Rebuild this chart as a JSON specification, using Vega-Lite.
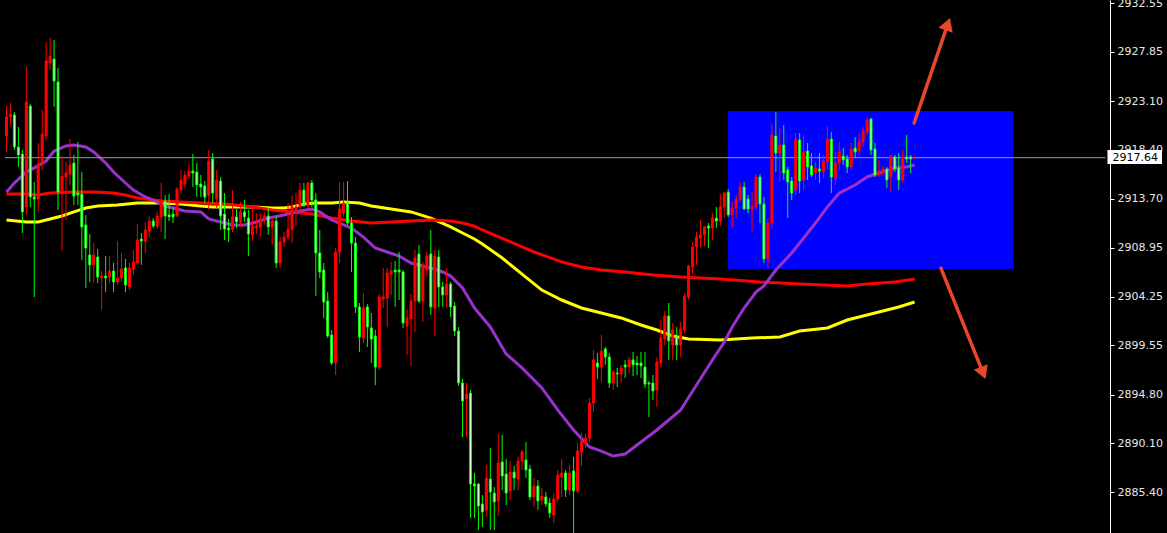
{
  "$schema": "https://vega.github.io/schema/vega-lite/v6.json",
  "width": 1167,
  "height": 533,
  "autosize": {"type": "none"},
  "padding": 0,
  "background": "#000000",
  "config": {"view": {"stroke": null}},
  "datasets": {
    "candles": [
      {"t":0,"open":2919.73,"high":2922.62,"low":2918.19,"close":2921.57},
      {"t":1,"open":2921.57,"high":2922.91,"low":2920.79,"close":2921.85},
      {"t":2,"open":2921.76,"high":2922.05,"low":2918.38,"close":2918.67},
      {"t":3,"open":2918.67,"high":2920.60,"low":2916.75,"close":2917.90},
      {"t":4,"open":2917.99,"high":2918.38,"low":2910.38,"close":2912.41},
      {"t":5,"open":2912.89,"high":2926.39,"low":2912.12,"close":2923.01},
      {"t":6,"open":2922.62,"high":2922.81,"low":2912.89,"close":2913.85},
      {"t":7,"open":2913.85,"high":2915.30,"low":2904.21,"close":2913.65},
      {"t":8,"open":2913.65,"high":2919.05,"low":2912.41,"close":2917.03},
      {"t":9,"open":2917.13,"high":2922.24,"low":2916.45,"close":2919.92},
      {"t":10,"open":2919.73,"high":2928.79,"low":2919.34,"close":2926.96},
      {"t":11,"open":2926.77,"high":2929.18,"low":2926.09,"close":2927.44},
      {"t":12,"open":2927.15,"high":2928.98,"low":2922.53,"close":2925.03},
      {"t":13,"open":2924.94,"high":2926.29,"low":2912.60,"close":2914.33},
      {"t":14,"open":2914.13,"high":2917.80,"low":2908.64,"close":2915.87},
      {"t":15,"open":2915.78,"high":2917.23,"low":2911.63,"close":2916.16},
      {"t":16,"open":2916.06,"high":2919.44,"low":2915.01,"close":2916.94},
      {"t":17,"open":2917.13,"high":2917.90,"low":2913.08,"close":2913.94},
      {"t":18,"open":2914.23,"high":2919.15,"low":2913.08,"close":2914.04},
      {"t":19,"open":2914.13,"high":2916.26,"low":2907.78,"close":2910.96},
      {"t":20,"open":2911.15,"high":2912.12,"low":2905.08,"close":2908.93},
      {"t":21,"open":2908.26,"high":2910.28,"low":2905.66,"close":2907.30},
      {"t":22,"open":2907.30,"high":2909.41,"low":2905.56,"close":2908.26},
      {"t":23,"open":2908.07,"high":2908.84,"low":2905.56,"close":2906.14},
      {"t":24,"open":2906.04,"high":2906.71,"low":2902.96,"close":2906.23},
      {"t":25,"open":2906.23,"high":2908.16,"low":2904.69,"close":2906.04},
      {"t":26,"open":2906.14,"high":2908.16,"low":2905.56,"close":2906.71},
      {"t":27,"open":2906.71,"high":2907.49,"low":2904.69,"close":2905.66},
      {"t":28,"open":2905.66,"high":2909.60,"low":2905.37,"close":2906.04},
      {"t":29,"open":2906.04,"high":2908.45,"low":2905.66,"close":2906.91},
      {"t":30,"open":2907.01,"high":2907.88,"low":2904.69,"close":2905.37},
      {"t":31,"open":2905.18,"high":2907.49,"low":2904.88,"close":2907.01},
      {"t":32,"open":2906.91,"high":2908.74,"low":2906.33,"close":2907.59},
      {"t":33,"open":2907.49,"high":2911.24,"low":2907.30,"close":2909.70},
      {"t":34,"open":2909.80,"high":2910.38,"low":2907.30,"close":2909.60},
      {"t":35,"open":2909.60,"high":2911.44,"low":2908.45,"close":2910.67},
      {"t":36,"open":2910.57,"high":2911.96,"low":2909.99,"close":2911.53},
      {"t":37,"open":2911.53,"high":2911.82,"low":2910.86,"close":2911.05},
      {"t":38,"open":2911.05,"high":2912.41,"low":2910.76,"close":2912.02},
      {"t":39,"open":2911.93,"high":2915.20,"low":2910.48,"close":2913.56},
      {"t":40,"open":2913.46,"high":2914.04,"low":2909.80,"close":2912.02},
      {"t":41,"open":2912.12,"high":2914.13,"low":2911.53,"close":2911.93},
      {"t":42,"open":2912.21,"high":2912.89,"low":2911.34,"close":2911.93},
      {"t":43,"open":2912.02,"high":2914.81,"low":2911.93,"close":2914.62},
      {"t":44,"open":2914.52,"high":2916.45,"low":2914.13,"close":2915.49},
      {"t":45,"open":2915.10,"high":2916.35,"low":2914.72,"close":2915.97},
      {"t":46,"open":2915.87,"high":2917.03,"low":2915.58,"close":2916.35},
      {"t":47,"open":2916.35,"high":2917.99,"low":2914.81,"close":2916.16},
      {"t":48,"open":2916.26,"high":2917.13,"low":2913.85,"close":2915.01},
      {"t":49,"open":2915.10,"high":2915.97,"low":2913.85,"close":2914.81},
      {"t":50,"open":2914.91,"high":2915.39,"low":2913.27,"close":2913.85},
      {"t":51,"open":2914.04,"high":2918.38,"low":2912.60,"close":2917.32},
      {"t":52,"open":2917.51,"high":2918.09,"low":2913.27,"close":2914.23},
      {"t":53,"open":2913.65,"high":2916.45,"low":2912.79,"close":2915.49},
      {"t":54,"open":2915.39,"high":2915.78,"low":2910.67,"close":2912.02},
      {"t":55,"open":2912.21,"high":2914.23,"low":2909.70,"close":2910.76},
      {"t":56,"open":2910.86,"high":2911.73,"low":2909.51,"close":2910.67},
      {"t":57,"open":2910.76,"high":2914.52,"low":2910.48,"close":2911.93},
      {"t":58,"open":2911.93,"high":2912.69,"low":2910.86,"close":2911.44},
      {"t":59,"open":2911.44,"high":2913.37,"low":2910.96,"close":2912.41},
      {"t":60,"open":2912.41,"high":2913.56,"low":2911.44,"close":2911.93},
      {"t":61,"open":2911.82,"high":2912.60,"low":2908.16,"close":2910.28},
      {"t":62,"open":2910.19,"high":2912.79,"low":2909.60,"close":2911.05},
      {"t":63,"open":2910.86,"high":2912.31,"low":2910.28,"close":2911.05},
      {"t":64,"open":2910.96,"high":2912.31,"low":2909.99,"close":2911.73},
      {"t":65,"open":2911.63,"high":2912.41,"low":2911.15,"close":2912.02},
      {"t":66,"open":2912.02,"high":2912.79,"low":2910.19,"close":2910.96},
      {"t":67,"open":2910.96,"high":2911.82,"low":2909.22,"close":2911.53},
      {"t":68,"open":2911.53,"high":2911.96,"low":2907.01,"close":2907.49},
      {"t":69,"open":2907.49,"high":2909.99,"low":2907.01,"close":2909.51},
      {"t":70,"open":2909.51,"high":2910.48,"low":2909.03,"close":2909.99},
      {"t":71,"open":2909.99,"high":2913.27,"low":2909.70,"close":2910.76},
      {"t":72,"open":2910.76,"high":2914.04,"low":2909.41,"close":2912.98},
      {"t":73,"open":2912.41,"high":2914.23,"low":2911.05,"close":2912.89},
      {"t":74,"open":2912.89,"high":2915.20,"low":2912.41,"close":2914.52},
      {"t":75,"open":2914.52,"high":2915.20,"low":2912.89,"close":2913.08},
      {"t":76,"open":2913.08,"high":2915.30,"low":2912.79,"close":2915.20},
      {"t":77,"open":2915.20,"high":2915.49,"low":2912.89,"close":2913.56},
      {"t":78,"open":2913.56,"high":2914.23,"low":2904.30,"close":2908.45},
      {"t":79,"open":2908.45,"high":2910.67,"low":2906.04,"close":2906.62},
      {"t":80,"open":2906.81,"high":2907.49,"low":2902.19,"close":2903.73},
      {"t":81,"open":2903.82,"high":2904.69,"low":2900.26,"close":2900.45},
      {"t":82,"open":2900.55,"high":2901.03,"low":2897.66,"close":2897.85},
      {"t":83,"open":2897.85,"high":2908.93,"low":2896.69,"close":2908.55},
      {"t":84,"open":2908.55,"high":2915.30,"low":2907.49,"close":2912.69},
      {"t":85,"open":2912.31,"high":2915.30,"low":2911.93,"close":2913.27},
      {"t":86,"open":2913.27,"high":2915.39,"low":2911.15,"close":2911.34},
      {"t":87,"open":2911.34,"high":2911.93,"low":2906.62,"close":2909.41},
      {"t":88,"open":2909.41,"high":2909.99,"low":2902.67,"close":2903.25},
      {"t":89,"open":2903.25,"high":2903.63,"low":2898.91,"close":2900.35},
      {"t":90,"open":2900.26,"high":2904.59,"low":2899.77,"close":2903.15},
      {"t":91,"open":2903.25,"high":2903.53,"low":2899.39,"close":2901.32},
      {"t":92,"open":2901.22,"high":2902.67,"low":2897.85,"close":2900.16},
      {"t":93,"open":2900.45,"high":2901.03,"low":2895.72,"close":2897.46},
      {"t":94,"open":2897.46,"high":2904.50,"low":2897.17,"close":2904.21},
      {"t":95,"open":2904.01,"high":2907.01,"low":2903.15,"close":2904.21},
      {"t":96,"open":2904.11,"high":2907.01,"low":2901.32,"close":2906.52},
      {"t":97,"open":2906.42,"high":2907.59,"low":2904.40,"close":2906.71},
      {"t":98,"open":2906.81,"high":2907.68,"low":2903.25,"close":2906.62},
      {"t":99,"open":2906.81,"high":2908.55,"low":2903.92,"close":2906.62},
      {"t":100,"open":2906.62,"high":2906.81,"low":2901.22,"close":2901.70},
      {"t":101,"open":2901.42,"high":2903.05,"low":2898.62,"close":2902.19},
      {"t":102,"open":2902.09,"high":2904.50,"low":2897.56,"close":2903.82},
      {"t":103,"open":2903.82,"high":2908.74,"low":2900.84,"close":2907.97},
      {"t":104,"open":2908.36,"high":2909.22,"low":2903.63,"close":2903.82},
      {"t":105,"open":2903.82,"high":2907.59,"low":2901.80,"close":2907.30},
      {"t":106,"open":2906.81,"high":2908.55,"low":2906.23,"close":2908.16},
      {"t":107,"open":2908.36,"high":2910.67,"low":2902.48,"close":2903.25},
      {"t":108,"open":2903.15,"high":2908.74,"low":2900.45,"close":2908.16},
      {"t":109,"open":2908.07,"high":2908.74,"low":2903.25,"close":2905.18},
      {"t":110,"open":2905.18,"high":2905.66,"low":2903.25,"close":2904.40},
      {"t":111,"open":2904.40,"high":2907.01,"low":2903.15,"close":2905.46},
      {"t":112,"open":2905.46,"high":2905.66,"low":2902.28,"close":2903.25},
      {"t":113,"open":2903.34,"high":2903.73,"low":2900.45,"close":2900.93},
      {"t":114,"open":2900.93,"high":2901.32,"low":2895.63,"close":2895.92},
      {"t":115,"open":2895.92,"high":2896.31,"low":2890.71,"close":2894.18},
      {"t":116,"open":2894.38,"high":2895.92,"low":2890.71,"close":2894.86},
      {"t":117,"open":2894.95,"high":2895.24,"low":2882.90,"close":2886.18},
      {"t":118,"open":2886.18,"high":2887.24,"low":2882.90,"close":2885.99},
      {"t":119,"open":2886.18,"high":2886.28,"low":2881.75,"close":2884.06},
      {"t":120,"open":2884.26,"high":2885.12,"low":2882.04,"close":2883.49},
      {"t":121,"open":2883.68,"high":2888.02,"low":2883.00,"close":2886.76},
      {"t":122,"open":2886.66,"high":2889.65,"low":2881.75,"close":2885.41},
      {"t":123,"open":2885.31,"high":2885.89,"low":2881.75,"close":2884.45},
      {"t":124,"open":2884.55,"high":2891.00,"low":2883.10,"close":2888.21},
      {"t":125,"open":2888.31,"high":2890.90,"low":2885.60,"close":2886.95},
      {"t":126,"open":2887.15,"high":2888.59,"low":2884.16,"close":2885.31},
      {"t":127,"open":2885.51,"high":2888.40,"low":2884.64,"close":2887.34},
      {"t":128,"open":2887.34,"high":2887.92,"low":2885.60,"close":2886.76},
      {"t":129,"open":2886.66,"high":2888.79,"low":2885.60,"close":2888.40},
      {"t":130,"open":2888.40,"high":2889.46,"low":2887.53,"close":2889.27},
      {"t":131,"open":2888.50,"high":2890.23,"low":2886.76,"close":2887.53},
      {"t":132,"open":2887.63,"high":2888.02,"low":2884.64,"close":2884.93},
      {"t":133,"open":2884.93,"high":2886.76,"low":2883.97,"close":2885.99},
      {"t":134,"open":2885.99,"high":2886.57,"low":2883.68,"close":2884.55},
      {"t":135,"open":2884.64,"high":2885.80,"low":2884.16,"close":2885.02},
      {"t":136,"open":2884.93,"high":2885.41,"low":2883.97,"close":2884.26},
      {"t":137,"open":2884.35,"high":2884.84,"low":2882.90,"close":2883.39},
      {"t":138,"open":2883.20,"high":2885.31,"low":2882.42,"close":2884.74},
      {"t":139,"open":2884.74,"high":2887.53,"low":2884.45,"close":2887.05},
      {"t":140,"open":2886.86,"high":2888.59,"low":2884.93,"close":2887.24},
      {"t":141,"open":2887.24,"high":2887.53,"low":2884.93,"close":2885.60},
      {"t":142,"open":2885.60,"high":2888.02,"low":2885.12,"close":2887.24},
      {"t":143,"open":2887.44,"high":2888.79,"low":2881.46,"close":2885.51},
      {"t":144,"open":2885.51,"high":2890.13,"low":2885.31,"close":2889.37},
      {"t":145,"open":2889.27,"high":2891.10,"low":2887.92,"close":2890.32},
      {"t":146,"open":2890.13,"high":2891.00,"low":2889.65,"close":2890.61},
      {"t":147,"open":2890.61,"high":2894.47,"low":2890.13,"close":2893.99},
      {"t":148,"open":2893.99,"high":2899.10,"low":2893.12,"close":2898.14},
      {"t":149,"open":2897.85,"high":2898.81,"low":2896.31,"close":2897.46},
      {"t":150,"open":2897.46,"high":2900.55,"low":2896.02,"close":2899.00},
      {"t":151,"open":2899.20,"high":2899.39,"low":2897.66,"close":2898.43},
      {"t":152,"open":2898.43,"high":2898.81,"low":2895.44,"close":2895.92},
      {"t":153,"open":2895.92,"high":2897.17,"low":2895.24,"close":2896.98},
      {"t":154,"open":2896.88,"high":2897.37,"low":2895.53,"close":2896.79},
      {"t":155,"open":2896.79,"high":2897.66,"low":2895.92,"close":2897.37},
      {"t":156,"open":2897.66,"high":2898.14,"low":2896.40,"close":2897.46},
      {"t":157,"open":2897.46,"high":2898.43,"low":2896.88,"close":2898.14},
      {"t":158,"open":2898.14,"high":2898.91,"low":2896.59,"close":2897.66},
      {"t":159,"open":2897.85,"high":2898.52,"low":2896.69,"close":2897.66},
      {"t":160,"open":2897.85,"high":2898.91,"low":2896.40,"close":2897.56},
      {"t":161,"open":2897.46,"high":2898.91,"low":2895.44,"close":2895.82},
      {"t":162,"open":2895.92,"high":2896.11,"low":2892.64,"close":2895.82},
      {"t":163,"open":2895.92,"high":2896.69,"low":2894.28,"close":2895.15},
      {"t":164,"open":2895.24,"high":2898.43,"low":2893.61,"close":2897.94},
      {"t":165,"open":2897.85,"high":2901.99,"low":2897.46,"close":2900.26},
      {"t":166,"open":2900.16,"high":2902.86,"low":2899.58,"close":2902.38},
      {"t":167,"open":2902.38,"high":2903.63,"low":2898.14,"close":2899.97},
      {"t":168,"open":2899.58,"high":2901.70,"low":2898.14,"close":2901.03},
      {"t":169,"open":2900.35,"high":2901.32,"low":2898.14,"close":2899.58},
      {"t":170,"open":2899.58,"high":2901.80,"low":2898.43,"close":2901.13},
      {"t":171,"open":2901.03,"high":2904.59,"low":2900.74,"close":2904.30},
      {"t":172,"open":2904.21,"high":2907.30,"low":2903.92,"close":2907.20},
      {"t":173,"open":2907.10,"high":2909.51,"low":2906.42,"close":2909.03},
      {"t":174,"open":2909.03,"high":2910.48,"low":2907.30,"close":2909.99},
      {"t":175,"open":2909.89,"high":2911.63,"low":2909.03,"close":2910.19},
      {"t":176,"open":2910.19,"high":2911.05,"low":2909.12,"close":2910.96},
      {"t":177,"open":2911.05,"high":2911.34,"low":2908.93,"close":2910.86},
      {"t":178,"open":2910.86,"high":2912.31,"low":2909.70,"close":2911.82},
      {"t":179,"open":2911.82,"high":2912.89,"low":2910.86,"close":2911.53},
      {"t":180,"open":2911.53,"high":2914.13,"low":2911.05,"close":2912.89},
      {"t":181,"open":2912.89,"high":2914.33,"low":2911.82,"close":2914.23},
      {"t":182,"open":2914.33,"high":2914.62,"low":2911.93,"close":2912.12},
      {"t":183,"open":2912.12,"high":2913.37,"low":2910.86,"close":2912.79},
      {"t":184,"open":2912.79,"high":2914.04,"low":2911.82,"close":2913.65},
      {"t":185,"open":2913.65,"high":2915.30,"low":2913.37,"close":2914.81},
      {"t":186,"open":2914.81,"high":2915.30,"low":2912.60,"close":2912.69},
      {"t":187,"open":2913.65,"high":2914.04,"low":2912.31,"close":2912.69},
      {"t":188,"open":2912.69,"high":2914.33,"low":2910.57,"close":2912.89},
      {"t":189,"open":2912.89,"high":2916.06,"low":2912.60,"close":2915.78},
      {"t":190,"open":2915.78,"high":2916.06,"low":2911.34,"close":2913.18},
      {"t":191,"open":2913.18,"high":2913.85,"low":2907.49,"close":2907.88},
      {"t":192,"open":2907.88,"high":2911.82,"low":2907.01,"close":2911.34},
      {"t":193,"open":2911.34,"high":2920.88,"low":2910.76,"close":2919.83},
      {"t":194,"open":2919.73,"high":2922.05,"low":2916.26,"close":2918.09},
      {"t":195,"open":2918.09,"high":2920.50,"low":2915.30,"close":2918.86},
      {"t":196,"open":2918.86,"high":2920.79,"low":2915.49,"close":2916.16},
      {"t":197,"open":2916.45,"high":2916.75,"low":2911.82,"close":2915.30},
      {"t":198,"open":2915.39,"high":2915.78,"low":2913.56,"close":2914.23},
      {"t":199,"open":2914.52,"high":2920.02,"low":2914.04,"close":2919.44},
      {"t":200,"open":2919.34,"high":2920.02,"low":2914.23,"close":2915.39},
      {"t":201,"open":2915.49,"high":2919.83,"low":2914.52,"close":2918.19},
      {"t":202,"open":2918.28,"high":2919.05,"low":2915.49,"close":2916.75},
      {"t":203,"open":2916.84,"high":2918.09,"low":2915.78,"close":2915.97},
      {"t":204,"open":2916.16,"high":2917.23,"low":2915.49,"close":2916.65},
      {"t":205,"open":2916.55,"high":2918.09,"low":2915.20,"close":2916.35},
      {"t":206,"open":2916.26,"high":2917.90,"low":2915.68,"close":2917.32},
      {"t":207,"open":2917.23,"high":2920.69,"low":2916.45,"close":2919.44},
      {"t":208,"open":2919.44,"high":2920.11,"low":2914.23,"close":2915.78},
      {"t":209,"open":2915.68,"high":2918.19,"low":2915.01,"close":2917.13},
      {"t":210,"open":2917.13,"high":2919.15,"low":2916.45,"close":2918.19},
      {"t":211,"open":2917.80,"high":2918.57,"low":2916.94,"close":2917.42},
      {"t":212,"open":2917.51,"high":2917.90,"low":2916.16,"close":2916.75},
      {"t":213,"open":2916.75,"high":2919.05,"low":2916.45,"close":2918.48},
      {"t":214,"open":2918.57,"high":2919.63,"low":2917.61,"close":2918.19},
      {"t":215,"open":2918.28,"high":2920.02,"low":2917.80,"close":2919.15},
      {"t":216,"open":2919.15,"high":2920.60,"low":2918.67,"close":2920.21},
      {"t":217,"open":2920.11,"high":2921.47,"low":2919.83,"close":2921.27},
      {"t":218,"open":2921.37,"high":2921.47,"low":2917.90,"close":2918.38},
      {"t":219,"open":2918.48,"high":2919.05,"low":2915.78,"close":2915.97},
      {"t":220,"open":2915.97,"high":2917.42,"low":2915.78,"close":2916.35},
      {"t":221,"open":2916.16,"high":2916.84,"low":2915.87,"close":2916.55},
      {"t":222,"open":2916.55,"high":2916.75,"low":2914.72,"close":2915.49},
      {"t":223,"open":2915.78,"high":2917.90,"low":2914.33,"close":2917.80},
      {"t":224,"open":2917.71,"high":2917.90,"low":2916.26,"close":2916.55},
      {"t":225,"open":2916.65,"high":2918.09,"low":2914.52,"close":2915.49},
      {"t":226,"open":2915.49,"high":2918.38,"low":2915.20,"close":2917.71},
      {"t":227,"open":2917.71,"high":2919.83,"low":2917.13,"close":2917.51},
      {"t":228,"open":2917.71,"high":2917.90,"low":2916.16,"close":2917.51},
      {"t":229,"open":2917.55,"high":2917.80,"low":2917.51,"close":2917.64}
    ],
    "ma": [
      {"t":0,"line":"fast","value":2914.33},{"t":2,"line":"fast","value":2915.20},{"t":5,"line":"fast","value":2916.26},{"t":7,"line":"fast","value":2916.65},{"t":10,"line":"fast","value":2917.32},{"t":12,"line":"fast","value":2918.28},{"t":15,"line":"fast","value":2918.77},{"t":17,"line":"fast","value":2918.86},{"t":20,"line":"fast","value":2918.67},{"t":22,"line":"fast","value":2918.19},{"t":25,"line":"fast","value":2917.13},{"t":27,"line":"fast","value":2916.26},{"t":30,"line":"fast","value":2915.20},{"t":32,"line":"fast","value":2914.52},{"t":35,"line":"fast","value":2913.85},{"t":37,"line":"fast","value":2913.56},{"t":40,"line":"fast","value":2912.98},{"t":45,"line":"fast","value":2912.50},{"t":49,"line":"fast","value":2912.41},{"t":51,"line":"fast","value":2911.73},{"t":54,"line":"fast","value":2911.44},{"t":57,"line":"fast","value":2911.15},{"t":60,"line":"fast","value":2911.15},{"t":63,"line":"fast","value":2911.44},{"t":66,"line":"fast","value":2911.82},{"t":70,"line":"fast","value":2912.12},{"t":74,"line":"fast","value":2912.50},{"t":77,"line":"fast","value":2912.69},{"t":79,"line":"fast","value":2912.41},{"t":82,"line":"fast","value":2911.63},{"t":87,"line":"fast","value":2910.86},{"t":90,"line":"fast","value":2909.99},{"t":93,"line":"fast","value":2908.93},{"t":96,"line":"fast","value":2908.55},{"t":99,"line":"fast","value":2908.16},{"t":102,"line":"fast","value":2907.49},{"t":107,"line":"fast","value":2907.01},{"t":110,"line":"fast","value":2906.62},{"t":112,"line":"fast","value":2906.23},{"t":115,"line":"fast","value":2905.08},{"t":118,"line":"fast","value":2903.15},{"t":122,"line":"fast","value":2901.32},{"t":126,"line":"fast","value":2898.72},{"t":130,"line":"fast","value":2897.37},{"t":135,"line":"fast","value":2895.44},{"t":139,"line":"fast","value":2893.32},{"t":143,"line":"fast","value":2891.39},{"t":147,"line":"fast","value":2889.75},{"t":150,"line":"fast","value":2889.36},{"t":153,"line":"fast","value":2888.88},{"t":156,"line":"fast","value":2889.07},{"t":160,"line":"fast","value":2890.23},{"t":164,"line":"fast","value":2891.39},{"t":170,"line":"fast","value":2893.32},{"t":174,"line":"fast","value":2895.73},{"t":178,"line":"fast","value":2898.14},{"t":181,"line":"fast","value":2899.87},{"t":183,"line":"fast","value":2901.32},{"t":186,"line":"fast","value":2903.15},{"t":189,"line":"fast","value":2904.69},{"t":191,"line":"fast","value":2905.27},{"t":194,"line":"fast","value":2906.81},{"t":198,"line":"fast","value":2908.45},{"t":201,"line":"fast","value":2909.90},{"t":204,"line":"fast","value":2911.34},{"t":207,"line":"fast","value":2912.89},{"t":210,"line":"fast","value":2914.23},{"t":214,"line":"fast","value":2915.01},{"t":217,"line":"fast","value":2915.78},{"t":220,"line":"fast","value":2916.16},{"t":224,"line":"fast","value":2916.65},{"t":227,"line":"fast","value":2916.75},{"t":229,"line":"fast","value":2916.94},
      {"t":0,"line":"medium","value":2911.63},{"t":5,"line":"medium","value":2911.44},{"t":8,"line":"medium","value":2911.44},{"t":11,"line":"medium","value":2911.73},{"t":14,"line":"medium","value":2912.02},{"t":17,"line":"medium","value":2912.41},{"t":20,"line":"medium","value":2912.79},{"t":23,"line":"medium","value":2912.98},{"t":28,"line":"medium","value":2913.08},{"t":33,"line":"medium","value":2913.27},{"t":39,"line":"medium","value":2913.27},{"t":44,"line":"medium","value":2913.18},{"t":49,"line":"medium","value":2912.98},{"t":52,"line":"medium","value":2912.89},{"t":57,"line":"medium","value":2912.89},{"t":62,"line":"medium","value":2912.89},{"t":67,"line":"medium","value":2912.79},{"t":70,"line":"medium","value":2912.79},{"t":72,"line":"medium","value":2912.89},{"t":75,"line":"medium","value":2913.18},{"t":78,"line":"medium","value":2913.27},{"t":82,"line":"medium","value":2913.27},{"t":85,"line":"medium","value":2913.37},{"t":89,"line":"medium","value":2913.27},{"t":92,"line":"medium","value":2912.98},{"t":97,"line":"medium","value":2912.69},{"t":102,"line":"medium","value":2912.41},{"t":107,"line":"medium","value":2911.82},{"t":112,"line":"medium","value":2910.96},{"t":115,"line":"medium","value":2910.38},{"t":118,"line":"medium","value":2909.80},{"t":120,"line":"medium","value":2909.32},{"t":125,"line":"medium","value":2907.97},{"t":130,"line":"medium","value":2906.42},{"t":135,"line":"medium","value":2904.88},{"t":140,"line":"medium","value":2903.92},{"t":145,"line":"medium","value":2903.15},{"t":150,"line":"medium","value":2902.67},{"t":155,"line":"medium","value":2902.19},{"t":160,"line":"medium","value":2901.51},{"t":164,"line":"medium","value":2901.03},{"t":168,"line":"medium","value":2900.45},{"t":172,"line":"medium","value":2900.16},{"t":180,"line":"medium","value":2900.06},{"t":188,"line":"medium","value":2900.26},{"t":195,"line":"medium","value":2900.35},{"t":200,"line":"medium","value":2900.93},{"t":207,"line":"medium","value":2901.22},{"t":212,"line":"medium","value":2901.99},{"t":219,"line":"medium","value":2902.67},{"t":225,"line":"medium","value":2903.25},{"t":229,"line":"medium","value":2903.73},
      {"t":0,"line":"slow","value":2914.13},{"t":5,"line":"slow","value":2914.13},{"t":8,"line":"slow","value":2914.04},{"t":11,"line":"slow","value":2914.23},{"t":17,"line":"slow","value":2914.33},{"t":22,"line":"slow","value":2914.33},{"t":27,"line":"slow","value":2914.23},{"t":30,"line":"slow","value":2914.04},{"t":33,"line":"slow","value":2913.75},{"t":37,"line":"slow","value":2913.56},{"t":39,"line":"slow","value":2913.46},{"t":44,"line":"slow","value":2913.37},{"t":49,"line":"slow","value":2913.27},{"t":55,"line":"slow","value":2913.18},{"t":60,"line":"slow","value":2912.98},{"t":64,"line":"slow","value":2912.79},{"t":67,"line":"slow","value":2912.60},{"t":72,"line":"slow","value":2912.41},{"t":77,"line":"slow","value":2912.21},{"t":82,"line":"slow","value":2911.82},{"t":87,"line":"slow","value":2911.53},{"t":92,"line":"slow","value":2911.34},{"t":97,"line":"slow","value":2911.44},{"t":102,"line":"slow","value":2911.53},{"t":107,"line":"slow","value":2911.63},{"t":112,"line":"slow","value":2911.53},{"t":115,"line":"slow","value":2911.34},{"t":118,"line":"slow","value":2911.05},{"t":120,"line":"slow","value":2910.67},{"t":126,"line":"slow","value":2909.70},{"t":133,"line":"slow","value":2908.55},{"t":140,"line":"slow","value":2907.59},{"t":145,"line":"slow","value":2907.10},{"t":150,"line":"slow","value":2906.81},{"t":156,"line":"slow","value":2906.62},{"t":163,"line":"slow","value":2906.33},{"t":170,"line":"slow","value":2906.14},{"t":180,"line":"slow","value":2905.95},{"t":190,"line":"slow","value":2905.66},{"t":200,"line":"slow","value":2905.46},{"t":212,"line":"slow","value":2905.27},{"t":217,"line":"slow","value":2905.46},{"t":224,"line":"slow","value":2905.66},{"t":229,"line":"slow","value":2905.95}
    ]
  },
  "layer": [
    {
      "data": {"values": [{"t": 181.875, "t2": 253.875, "top": 2922.14, "bottom": 2906.91}]},
      "mark": {"type": "rect", "color": "#0000ff"},
      "encoding": {
        "x": {"field": "t", "type": "quantitative", "scale": {"domain": [-0.375, 291.375], "nice": false, "zero": false}, "axis": null},
        "x2": {"field": "t2"},
        "y": {"field": "top", "type": "quantitative", "scale": {"domain": [2881.46, 2932.84], "nice": false, "zero": false},
          "axis": {"orient": "right", "offset": -57, "title": null, "grid": false, "values": [2885.40, 2890.10, 2894.80, 2899.55, 2904.25, 2908.95, 2913.70, 2918.40, 2923.10, 2927.85, 2932.55], "format": ".2f", "domainColor": "#ffffff", "tickColor": "#ffffff", "tickSize": 4, "labelColor": "#e6e6e6", "labelFont": "DejaVu Sans", "labelFontSize": 11, "labelPadding": 3, "labelFlush": false, "labelOverlap": false, "zindex": 0}},
        "y2": {"field": "bottom"}
      }
    },
    {
      "data": {"name": "ma"},
      "transform": [{"filter": "datum.line === 'medium'"}],
      "mark": {"type": "line", "color": "#ffff00", "strokeWidth": 3},
      "encoding": {
        "x": {"field": "t", "type": "quantitative"},
        "y": {"field": "value", "type": "quantitative"}
      }
    },
    {
      "data": {"name": "ma"},
      "transform": [{"filter": "datum.line === 'slow'"}],
      "mark": {"type": "line", "color": "#ff0000", "strokeWidth": 3},
      "encoding": {
        "x": {"field": "t", "type": "quantitative"},
        "y": {"field": "value", "type": "quantitative"}
      }
    },
    {
      "data": {"name": "ma"},
      "transform": [{"filter": "datum.line === 'fast'"}],
      "mark": {"type": "line", "color": "#9932cc", "strokeWidth": 3},
      "encoding": {
        "x": {"field": "t", "type": "quantitative"},
        "y": {"field": "value", "type": "quantitative"}
      }
    },
    {
      "data": {"values": [{"price": 2917.64, "from": -0.375, "to": 277.125}]},
      "mark": {"type": "rule", "color": "#9a9a9a", "strokeWidth": 1},
      "encoding": {
        "x": {"field": "from", "type": "quantitative"},
        "x2": {"field": "to"},
        "y": {"field": "price", "type": "quantitative"}
      }
    },
    {
      "data": {"name": "candles"},
      "mark": {"type": "rule", "strokeWidth": 1},
      "encoding": {
        "x": {"field": "t", "type": "quantitative"},
        "y": {"field": "low", "type": "quantitative"},
        "y2": {"field": "high"},
        "color": {"condition": {"test": "datum.close > datum.open", "value": "#ff0000"}, "value": "#00ff00"}
      }
    },
    {
      "data": {"name": "candles"},
      "mark": {"type": "bar", "size": 2, "strokeWidth": 1},
      "encoding": {
        "x": {"field": "t", "type": "quantitative"},
        "y": {"field": "open", "type": "quantitative"},
        "y2": {"field": "close"},
        "fill": {"condition": {"test": "datum.close > datum.open", "value": "#ff0000"}, "value": "#ccffcc"},
        "stroke": {"condition": {"test": "datum.close > datum.open", "value": "#ff0000"}, "value": "#00ff00"}
      }
    },
    {
      "data": {"values": [
        {"t": 228.875, "price": 2920.98, "t2": 237.35, "price2": 2930.51},
        {"t": 235.625, "price": 2907.00, "t2": 246.28, "price2": 2896.88}
      ]},
      "mark": {"type": "rule", "color": "#e8472b", "strokeWidth": 3.5, "strokeCap": "round"},
      "encoding": {
        "x": {"field": "t", "type": "quantitative"},
        "y": {"field": "price", "type": "quantitative"},
        "x2": {"field": "t2"},
        "y2": {"field": "price2"}
      }
    },
    {
      "data": {"values": [{"t": 237.35, "price": 2930.51}]},
      "mark": {"type": "point", "shape": "triangle-up", "filled": true, "size": 225, "angle": 19, "color": "#e8472b", "opacity": 1},
      "encoding": {
        "x": {"field": "t", "type": "quantitative"},
        "y": {"field": "price", "type": "quantitative"}
      }
    },
    {
      "data": {"values": [{"t": 246.28, "price": 2896.88}]},
      "mark": {"type": "point", "shape": "triangle-up", "filled": true, "size": 225, "angle": 158, "color": "#e8472b", "opacity": 1},
      "encoding": {
        "x": {"field": "t", "type": "quantitative"},
        "y": {"field": "price", "type": "quantitative"}
      }
    },
    {
      "data": {"values": [{"t": 277.625, "t2": 291.375, "top": 2918.38, "bottom": 2917.03}]},
      "mark": {"type": "rect", "color": "#ffffff"},
      "encoding": {
        "x": {"field": "t", "type": "quantitative"},
        "x2": {"field": "t2"},
        "y": {"field": "top", "type": "quantitative"},
        "y2": {"field": "bottom"}
      }
    },
    {
      "data": {"values": [{"t": 278.875, "price": 2917.64, "label": "2917.64"}]},
      "mark": {"type": "text", "align": "left", "baseline": "middle", "font": "DejaVu Sans", "fontSize": 11, "color": "#000000"},
      "encoding": {
        "x": {"field": "t", "type": "quantitative"},
        "y": {"field": "price", "type": "quantitative"},
        "text": {"field": "label"}
      }
    }
  ]
}
